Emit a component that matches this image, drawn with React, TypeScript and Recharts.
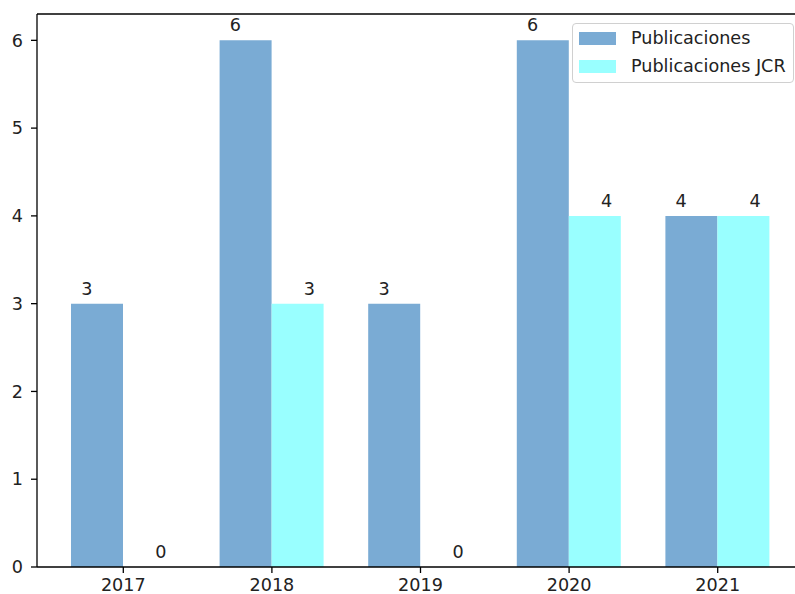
import { ComposedChart, Bar, Line, XAxis, YAxis, ReferenceLine } from "recharts"

const years = ["2017", "2018", "2019", "2020", "2021"]
const publicaciones = [3, 6, 3, 6, 4]
const publicacionesJcr = [0, 3, 0, 4, 4]
const yTicks = [0, 1, 2, 3, 4, 5, 6]

const BLUE = "#7aabd4"
const CYAN = "#99ffff"
const FONT = "'DejaVu Sans', sans-serif"
const FS = 17.6
const BAR = 52

const data = years.map((y, i) => ({ year: y, pub: publicaciones[i], jcr: publicacionesJcr[i] }))

// value labels hang off an invisible line so zero bars still get one
const valueLabel = (dx: number) => (props: any) => {
  const { x, y, value } = props
  return (
    <text x={x + dx} y={y - 9} textAnchor="middle" fontFamily={FONT} fontSize={FS} fill="#222">
      {value}
    </text>
  )
}

const legendItems = [
  { label: "Publicaciones", color: BLUE },
  { label: "Publicaciones JCR", color: CYAN },
]

function LegendBox() {
  return (
    <div style={{
      position: "absolute", left: 572, top: 23, width: 222, height: 60, boxSizing: "border-box",
      border: "1px solid #d0d0d0", borderRadius: 4, background: "rgba(255,255,255,0.8)",
      padding: "0 0 0 6px", fontFamily: FONT, fontSize: FS, color: "#222",
    }}>
      {legendItems.map((it) => (
        <div key={it.label} style={{ display: "flex", alignItems: "center", height: 28 }}>
          <span style={{ width: 37, height: 13, background: it.color, marginRight: 15 }} />
          <span>{it.label}</span>
        </div>
      ))}
    </div>
  )
}

export default function App() {
  return (
    <div style={{ position: "absolute", left: 0, top: 0, width: 795, height: 594, overflow: "hidden", background: "#fff" }}>
      <ComposedChart width={804} height={594} data={data} barSize={BAR} barGap={0}
                     margin={{ top: 14, right: 0, left: 0, bottom: 0 }}>
        <XAxis dataKey="year" height={27} padding={{ left: 12, right: 12 }}
               tick={{ fill: "#222", fontSize: FS, fontFamily: FONT }}
               tickSize={6} tickMargin={6}
               axisLine={{ stroke: "#000", strokeWidth: 1.3 }} tickLine={{ stroke: "#000", strokeWidth: 1.3 }} />
        <YAxis width={37} domain={[0, 6.3]} ticks={yTicks} allowDataOverflow
               tick={{ fill: "#222", fontSize: FS, fontFamily: FONT }}
               tickSize={6} tickMargin={8}
               axisLine={{ stroke: "#000", strokeWidth: 1.3 }} tickLine={{ stroke: "#000", strokeWidth: 1.3 }} />
        <ReferenceLine y={6.3} stroke="#000" strokeWidth={1.3} ifOverflow="visible" />
        <Bar dataKey="pub" name="Publicaciones" fill={BLUE} isAnimationActive={false} />
        <Bar dataKey="jcr" name="Publicaciones JCR" fill={CYAN} isAnimationActive={false} />
        <Line dataKey="pub" stroke="none" dot={false} activeDot={false} legendType="none"
              isAnimationActive={false} label={valueLabel(-BAR / 2 - 10.5)} />
        <Line dataKey="jcr" stroke="none" dot={false} activeDot={false} legendType="none"
              isAnimationActive={false} label={valueLabel(BAR / 2 + 11.5)} />
      </ComposedChart>
      <LegendBox />
    </div>
  )
}
